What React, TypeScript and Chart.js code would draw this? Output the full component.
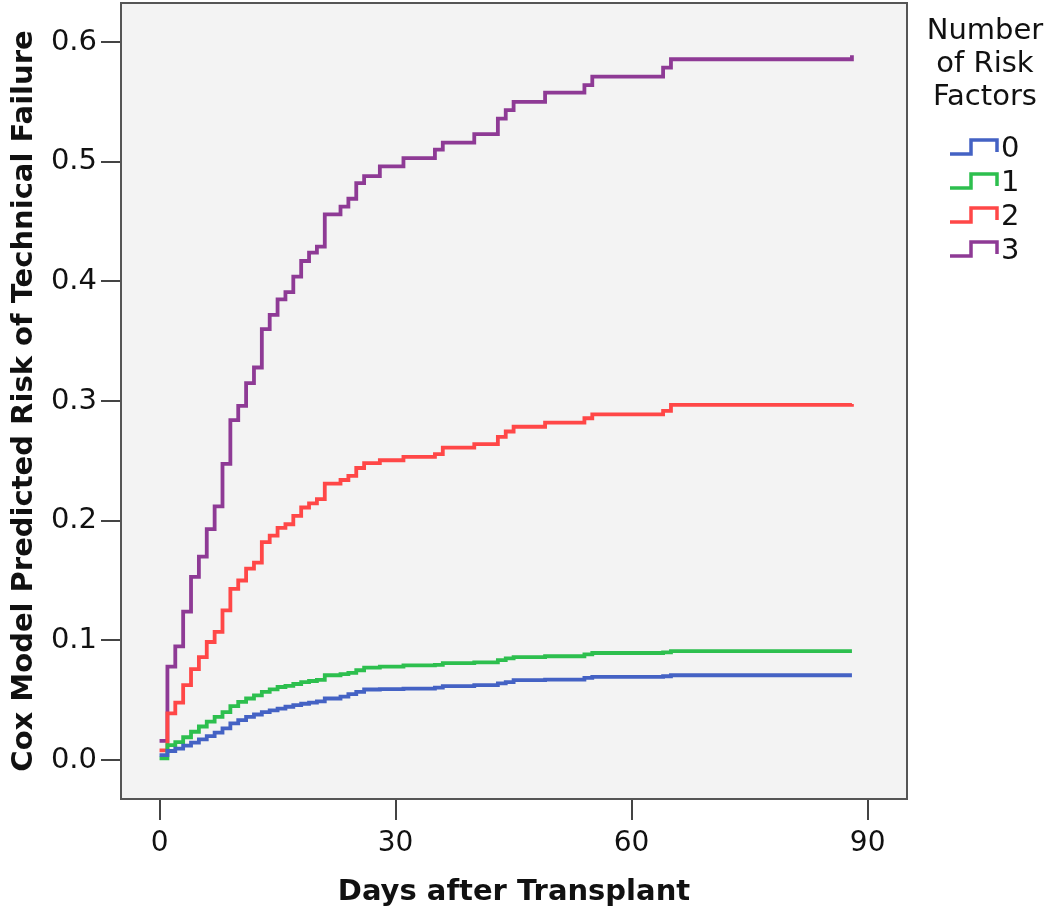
import React, { useEffect, useRef } from "react";
import { Chart, registerables } from "chart.js";

Chart.register(...registerables);

// Event days (shared step times of the Cox model curves)
const days = [0, 1, 2, 3, 4, 5, 6, 7, 8, 9, 10, 11, 12, 13, 14, 15, 16, 17, 18, 19, 20, 21, 23, 24, 25, 26, 28, 31, 35, 36, 40, 43, 44, 45, 49, 54, 55, 64, 65, 88];

const risk0 = [0.004, 0.0075, 0.0095, 0.012, 0.0145, 0.0172, 0.02, 0.0228, 0.0264, 0.0306, 0.0333, 0.036, 0.038, 0.04, 0.0415, 0.043, 0.0445, 0.0458, 0.047, 0.048, 0.049, 0.0514, 0.053, 0.055, 0.057, 0.0589, 0.0593, 0.0597, 0.0605, 0.0617, 0.0625, 0.064, 0.065, 0.0667, 0.0672, 0.0686, 0.0694, 0.07, 0.0708, 0.0708];

const risk1 = [0.0014, 0.0125, 0.015, 0.019, 0.0236, 0.028, 0.032, 0.036, 0.04, 0.045, 0.0486, 0.0514, 0.054, 0.057, 0.059, 0.061, 0.062, 0.0635, 0.065, 0.066, 0.067, 0.0708, 0.0718, 0.0728, 0.075, 0.0772, 0.078, 0.079, 0.0795, 0.081, 0.0815, 0.0835, 0.085, 0.086, 0.0867, 0.0883, 0.0894, 0.09, 0.091, 0.091];

const risk2 = [0.008, 0.039, 0.048, 0.0625, 0.076, 0.086, 0.0986, 0.107, 0.125, 0.143, 0.15, 0.16, 0.165, 0.182, 0.1875, 0.194, 0.197, 0.204, 0.211, 0.2144, 0.218, 0.231, 0.234, 0.2375, 0.244, 0.248, 0.2505, 0.2533, 0.2556, 0.261, 0.264, 0.27, 0.2745, 0.2785, 0.282, 0.2856, 0.2889, 0.2917, 0.2967, 0.2975];

const risk3 = [0.016, 0.078, 0.095, 0.124, 0.153, 0.17, 0.193, 0.212, 0.2475, 0.284, 0.296, 0.315, 0.328, 0.36, 0.372, 0.385, 0.391, 0.404, 0.417, 0.424, 0.429, 0.456, 0.4625, 0.469, 0.482, 0.488, 0.496, 0.503, 0.51, 0.516, 0.523, 0.536, 0.543, 0.55, 0.5577, 0.564, 0.571, 0.5786, 0.5856, 0.589];

const seriesLabels = ["0", "1", "2", "3"];
const seriesColors = ["#4462c4", "#2dbf4e", "#ff4747", "#8e3a95"];
const legendTitle = ["Number", "of Risk", "Factors"];
const xTicks = [0, 30, 60, 90];
const yTicks = [0, 0.1, 0.2, 0.3, 0.4, 0.5, 0.6];
const xTitle = "Days after Transplant";
const yTitle = "Cox Model Predicted Risk of Technical Failure";

const FONT = '"DejaVu Sans", "Liberation Sans", sans-serif';

const plotBg = {
  id: "plotBg",
  beforeDraw(chart: any) {
    const { ctx, chartArea } = chart;
    ctx.save();
    ctx.fillStyle = "#ffffff";
    ctx.fillRect(0, 0, chart.width, chart.height);
    ctx.fillStyle = "#f3f3f3";
    ctx.fillRect(chartArea.left, chartArea.top, chartArea.right - chartArea.left, chartArea.bottom - chartArea.top);
    ctx.restore();
  },
  afterDatasetsDraw(chart: any) {
    const { ctx, chartArea } = chart;
    ctx.save();
    ctx.strokeStyle = "#555555";
    ctx.lineWidth = 2;
    ctx.strokeRect(chartArea.left, chartArea.top, chartArea.right - chartArea.left, chartArea.bottom - chartArea.top);
    ctx.restore();
  },
};

const stepLegend = {
  id: "stepLegend",
  afterDraw(chart: any) {
    const { ctx } = chart;
    ctx.save();
    ctx.fillStyle = "#111111";
    ctx.font = `29px ${FONT}`;
    ctx.textAlign = "center";
    ctx.textBaseline = "middle";
    legendTitle.forEach((t, i) => ctx.fillText(t, 985, 31 + i * 33));
    chart.data.datasets.forEach((ds: any, i: number) => {
      const y = 148 + i * 34;
      ctx.strokeStyle = ds.borderColor;
      ctx.lineWidth = 3.5;
      ctx.lineJoin = "miter";
      ctx.beginPath();
      ctx.moveTo(950, y + 6);
      ctx.lineTo(971, y + 6);
      ctx.lineTo(971, y - 8);
      ctx.lineTo(997, y - 8);
      ctx.lineTo(997, y + 4);
      ctx.stroke();
      ctx.textAlign = "left";
      ctx.fillText(ds.label, 1001, y + 1);
    });
    ctx.restore();
  },
};

export default function App() {
  const ref = useRef<HTMLCanvasElement | null>(null);

  useEffect(() => {
    if (!ref.current) return;
    const series = [risk0, risk1, risk2, risk3];
    const chart = new Chart(ref.current, {
      type: "line",
      data: {
        datasets: series.map((vals, i) => ({
          label: seriesLabels[i],
          data: days.map((d, j) => ({ x: d, y: vals[j] })),
          borderColor: seriesColors[i],
          backgroundColor: seriesColors[i],
          borderWidth: 3.8,
          pointRadius: 0,
          stepped: "before" as const,
          fill: false,
        })),
      },
      options: {
        responsive: false,
        animation: false,
        layout: { padding: { top: 3, right: 143, left: 0, bottom: 0 } },
        plugins: {
          legend: { display: false },
          tooltip: { enabled: false },
        },
        scales: {
          x: {
            type: "linear",
            min: -4.9,
            max: 95,
            afterBuildTicks: (scale: any) => {
              scale.ticks = xTicks.map((v) => ({ value: v }));
            },
            afterFit: (scale: any) => {
              scale.height = 115;
              scale.paddingLeft = 0;
              scale.paddingRight = 0;
            },
            border: { display: false },
            grid: { drawOnChartArea: false, drawTicks: true, tickLength: 21, color: "#444444", lineWidth: 2 },
            ticks: {
              padding: 7,
              color: "#111111",
              font: { family: FONT, size: 28 },
              callback: (v: any) => String(v),
            },
            title: {
              display: true,
              text: xTitle,
              color: "#111111",
              font: { family: FONT, size: 29, weight: "bold" },
              padding: { top: 0, bottom: 4 },
            },
          },
          y: {
            type: "linear",
            min: -0.0326,
            max: 0.6326,
            afterBuildTicks: (scale: any) => {
              scale.ticks = yTicks.map((v) => ({ value: v }));
            },
            afterFit: (scale: any) => {
              scale.width = 121;
              scale.paddingTop = 0;
              scale.paddingBottom = 0;
            },
            border: { display: false },
            grid: { drawOnChartArea: false, drawTicks: true, tickLength: 20, color: "#444444", lineWidth: 2 },
            ticks: {
              padding: 4,
              color: "#111111",
              font: { family: FONT, size: 29 },
              callback: (v: any) => Number(v).toFixed(1),
            },
            title: {
              display: true,
              text: yTitle,
              color: "#111111",
              font: { family: FONT, size: 29, weight: "bold" },
              padding: { top: 7, bottom: 0 },
            },
          },
        },
      },
      plugins: [plotBg, stepLegend],
    });
    return () => chart.destroy();
  }, []);

  return (
    <div style={{ position: "fixed", left: 0, top: 0, width: 1050, height: 914, background: "#fff" }}>
      <canvas ref={ref} width={1050} height={914} style={{ width: 1050, height: 914, display: "block" }} />
    </div>
  );
}
